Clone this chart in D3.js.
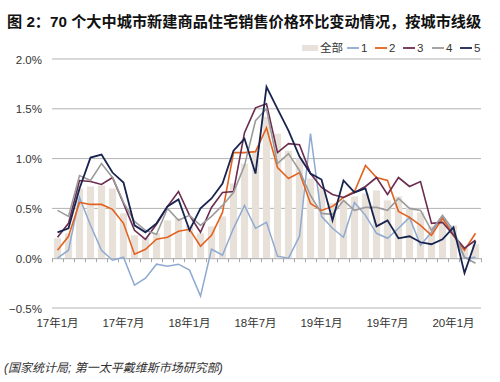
<!DOCTYPE html>
<html>
<head>
<meta charset="utf-8">
<script src="https://cdn.jsdelivr.net/npm/d3@7"></script>
<style>
html,body{margin:0;padding:0;background:#fff;}
svg{display:block;font-family:"Liberation Sans","Noto Sans CJK SC",Arial,sans-serif;}
</style>
</head>
<body>
<svg id="chart" width="500" height="382"></svg>
<script>
// ---- data ----
const months = [
 "17年1月","17年2月","17年3月","17年4月","17年5月","17年6月","17年7月","17年8月","17年9月","17年10月","17年11月","17年12月",
 "18年1月","18年2月","18年3月","18年4月","18年5月","18年6月","18年7月","18年8月","18年9月","18年10月","18年11月","18年12月",
 "19年1月","19年2月","19年3月","19年4月","19年5月","19年6月","19年7月","19年8月","19年9月","19年10月","19年11月","19年12月",
 "20年1月","20年2月","20年3月"];
const tickLabels = ["17年1月","17年7月","18年1月","18年7月","19年1月","19年7月","20年1月"];
const yTicks = [-0.5, 0.0, 0.5, 1.0, 1.5, 2.0];

const all = [0.20,0.25,0.70,0.72,0.73,0.70,0.45,0.23,0.20,0.25,0.38,0.40,
             0.33,0.25,0.32,0.42,0.75,0.95,1.08,1.42,1.25,1.08,1.00,0.80,
             0.70,0.55,0.58,0.62,0.65,0.68,0.58,0.62,0.51,0.46,0.32,0.40,
             0.33,0.10,0.14];
const tier1 = [0.00,0.08,0.61,0.33,0.08,-0.02,0.01,-0.27,-0.20,-0.06,-0.08,-0.06,
               -0.12,-0.38,0.09,0.03,0.30,0.53,0.30,0.36,0.02,0.00,0.22,1.25,
               0.42,0.30,0.21,0.56,0.43,0.25,0.20,0.30,0.41,0.13,0.26,0.41,
               0.25,0.00,0.01];
const tier2 = [0.08,0.22,0.56,0.54,0.54,0.49,0.35,0.04,0.09,0.19,0.21,0.27,
               0.29,0.12,0.23,0.46,1.06,1.06,1.07,1.31,0.91,0.80,0.86,0.55,
               0.48,0.52,0.61,0.67,0.93,0.81,0.78,0.47,0.41,0.33,0.23,0.40,
               0.23,0.08,0.25];
const tier3 = [0.21,0.35,0.78,0.77,0.74,0.81,0.55,0.28,0.19,0.34,0.52,0.67,
               0.43,0.26,0.51,0.66,0.67,1.26,1.51,1.55,1.06,1.15,1.14,0.85,
               0.71,0.64,0.61,0.66,0.72,0.81,0.64,0.81,0.72,0.77,0.35,0.36,
               0.23,0.10,0.18];
const tier4 = [0.48,0.42,0.83,0.78,0.95,0.81,0.56,0.37,0.28,0.24,0.50,0.38,
               0.43,0.33,0.42,0.53,0.66,0.93,1.38,1.50,0.95,1.05,0.88,0.63,
               0.45,0.44,0.58,0.48,0.51,0.51,0.48,0.60,0.50,0.48,0.28,0.43,
               0.28,0.01,-0.05];
const tier5 = [0.26,0.30,0.70,1.01,1.04,0.86,0.76,0.33,0.26,0.35,0.52,0.59,
               0.28,0.50,0.60,0.75,1.08,1.20,0.85,1.72,1.50,1.28,1.02,0.85,
               0.79,0.38,0.78,0.66,0.70,0.32,0.38,0.20,0.22,0.16,0.14,0.19,
               0.31,-0.15,0.17];

const seriesNames = ["1","2","3","4","5"];
const seriesData = [tier1, tier2, tier3, tier4, tier5];
const seriesColors = ["#8eaad0","#e2621f","#6b2c4f","#9b9b9b","#18234f"];
const seriesWidths = [1.5,1.6,1.6,1.6,1.8];
const barColor = "#e7e1da";

// ---- layout ----
const svg = d3.select("#chart");
const plotL = 52, plotR = 481, plotT = 59, plotB = 308;

const xb = d3.scaleLinear().domain([0, months.length]).range([plotL, plotR]);
const xc = i => xb(i + 0.5);
const y = d3.scaleLinear().domain([-0.5, 2.0]).range([plotB, plotT]);

// title
svg.append("text").attr("x", 7).attr("y", 27)
  .attr("font-size", 15.2).attr("font-weight", "bold").attr("fill", "#111")
  .style("font-family", "'Liberation Sans','Noto Sans CJK SC',sans-serif")
  .text("图 2：70 个大中城市新建商品住宅销售价格环比变动情况，按城市线级");

// gridlines (non-zero)
const grid = svg.append("g");
grid.selectAll("line").data(yTicks.filter(d => d !== 0)).enter().append("line")
  .attr("x1", plotL).attr("x2", plotR)
  .attr("y1", d => y(d)).attr("y2", d => y(d))
  .attr("stroke", "#b3b3b3").attr("stroke-width", 1);

// y labels via axis
const yAxis = d3.axisLeft(y).tickValues(yTicks).tickSize(0).tickPadding(0)
  .tickFormat(d => d3.format(".1f")(d) + "%");
const yg = svg.append("g").attr("transform", `translate(${42},0)`).call(yAxis);
yg.select(".domain").remove();
yg.selectAll("text").attr("font-size", 11.5).attr("fill", "#333").attr("dy", "0.35em")
  .style("font-family", "'Liberation Sans',Arial,sans-serif");

// bars
svg.append("g").selectAll("rect").data(all).enter().append("rect")
  .attr("x", (d, i) => xc(i) - 3.6)
  .attr("width", 7.2)
  .attr("y", d => Math.min(y(d), y(0)))
  .attr("height", d => Math.abs(y(d) - y(0)))
  .attr("fill", barColor);

// zero axis with ticks at month boundaries
const xAxis = d3.axisBottom(xb).tickValues(d3.range(0, months.length + 1)).tickSize(4).tickFormat("");
const xg = svg.append("g").attr("transform", `translate(0,${y(0)})`).call(xAxis);
xg.select(".domain").attr("stroke", "#a8a8a8").attr("d", `M${plotL},0.5H${plotR}`);
xg.selectAll(".tick line").attr("stroke", "#a8a8a8");

// x labels
svg.append("g").selectAll("text").data(tickLabels).enter().append("text")
  .attr("x", d => xc(months.indexOf(d)))
  .attr("y", 327)
  .attr("text-anchor", "middle")
  .attr("font-size", 11.5).attr("fill", "#333")
  .style("font-family", "'Liberation Sans','Noto Sans CJK SC',sans-serif")
  .text(d => d);

// lines
const line = d3.line().x((d, i) => xc(i)).y(d => y(d));
svg.append("g").selectAll("path").data(seriesData).enter().append("path")
  .attr("d", d => line(d))
  .attr("fill", "none")
  .attr("stroke", (d, i) => seriesColors[i])
  .attr("stroke-width", (d, i) => seriesWidths[i])
  .attr("stroke-linejoin", "miter");

// legend
const lg = svg.append("g").attr("font-size", 11.5).attr("fill", "#333")
  .style("font-family", "'Liberation Sans','Noto Sans CJK SC',sans-serif");
lg.append("rect").attr("x", 302).attr("y", 45).attr("width", 16).attr("height", 6).attr("fill", barColor);
lg.append("text").attr("x", 320).attr("y", 52).text("全部");
const legX = [347, 375, 403, 432, 460];
seriesNames.forEach((n, i) => {
  lg.append("line").attr("x1", legX[i]).attr("x2", legX[i] + 12).attr("y1", 48).attr("y2", 48)
    .attr("stroke", seriesColors[i]).attr("stroke-width", 1.8);
  lg.append("text").attr("x", legX[i] + 14).attr("y", 52).text(n);
});

// source
svg.append("text").attr("x", 4).attr("y", 372)
  .attr("font-size", 12).attr("font-style", "italic").attr("fill", "#333")
  .style("font-family", "'Liberation Sans','Noto Sans CJK SC',sans-serif")
  .text("(国家统计局; 第一太平戴维斯市场研究部)");
</script>
</body>
</html>
